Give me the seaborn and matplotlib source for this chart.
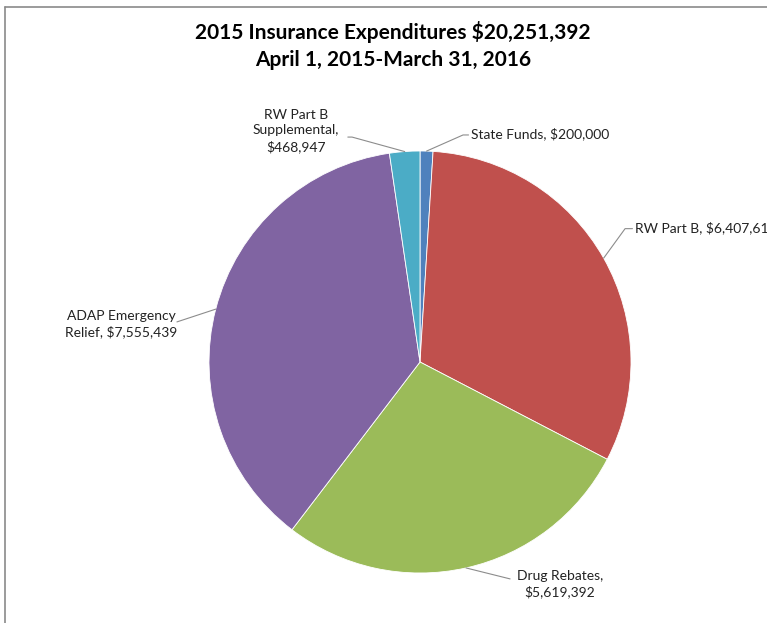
import matplotlib
matplotlib.use("Agg")
import matplotlib.pyplot as plt
import seaborn as sns
import numpy as np

categories = ["State Funds", "RW Part B", "Drug Rebates", "ADAP Emergency Relief", "RW Part B Supplemental"]
values = [200000, 6407614, 5619392, 7555439, 468947]
labels = ["State Funds, $200,000", "RW Part B, $6,407,614", "Drug Rebates,\n$5,619,392",
          "ADAP Emergency\nRelief, $7,555,439", "RW Part B\nSupplemental,\n$468,947"]
title_lines = ["2015 Insurance Expenditures $20,251,392", "April 1, 2015-March 31, 2016"]

sns.set_theme(style="white")
plt.rcParams['font.family'] = ['Lato', 'DejaVu Sans']

colors = sns.color_palette(["#4F81BD", "#C0504D", "#9BBB59", "#8064A2", "#4BACC6"])

W, H = 767, 623
fig = plt.figure(figsize=(W / 100, H / 100), dpi=100)
cx, cy, r = 420, 362, 211
ax = fig.add_axes([(cx - r) / W, 1 - (cy + r) / H, 2 * r / W, 2 * r / H])
wedges, _ = ax.pie(values, colors=colors, startangle=90, counterclock=False, radius=1,
                   wedgeprops=dict(edgecolor="white", linewidth=0.6))
ax.set_xlim(-1, 1)
ax.set_ylim(-1, 1)
ax.set_aspect("auto")
ax.axis("off")

# label layout: (elbow point, text anchor point, ha)
layout = [
    ((0.204, 1.076), (0.242, 1.081), "left"),
    ((0.972, 0.632), (1.019, 0.635), "left"),
    ((0.427, -1.028), (0.664, -1.052), "center"),
    ((-1.152, 0.190), (-1.417, 0.180), "center"),
    ((-0.322, 1.066), (-0.588, 1.095), "center"),
]
for w, lab, (elbow, tpos, ha) in zip(wedges, labels, layout):
    mid = np.deg2rad((w.theta1 + w.theta2) / 2)
    sx, sy = np.cos(mid), np.sin(mid)
    if ha == "left":
        ex = tpos[0] - 0.012
        xs, ys = [sx, elbow[0], ex], [sy, elbow[1], elbow[1]]
    elif tpos[0] < 0 and elbow[0] > tpos[0] and sy > 0.5:
        xs, ys = [sx, elbow[0], elbow[0] - 0.02], [sy, elbow[1], elbow[1]]
    else:
        xs, ys = [sx, elbow[0]], [sy, elbow[1]]
    ax.plot(xs, ys, color="#8c8c8c", lw=0.8, clip_on=False)
    ax.text(tpos[0], tpos[1], lab, ha=ha, va="center", fontsize=10, color="#222222",
            linespacing=1.35, clip_on=False)

fig.text(0.512, 1 - 32 / H, title_lines[0], ha="center", va="center", fontsize=15,
         fontweight="bold", color="black")
fig.text(0.512, 1 - 60 / H, title_lines[1], ha="center", va="center", fontsize=15,
         fontweight="bold", color="black")

# chart frame (top and left edges visible)
fig.add_artist(plt.Line2D([5 / W, 1], [1 - 7 / H, 1 - 7 / H], color="#8a8a8a", lw=1.2,
                          transform=fig.transFigure))
fig.add_artist(plt.Line2D([5 / W, 5 / W], [0, 1 - 7 / H], color="#8a8a8a", lw=1.2,
                          transform=fig.transFigure))

fig.savefig("out.png", dpi=100, facecolor="white")
